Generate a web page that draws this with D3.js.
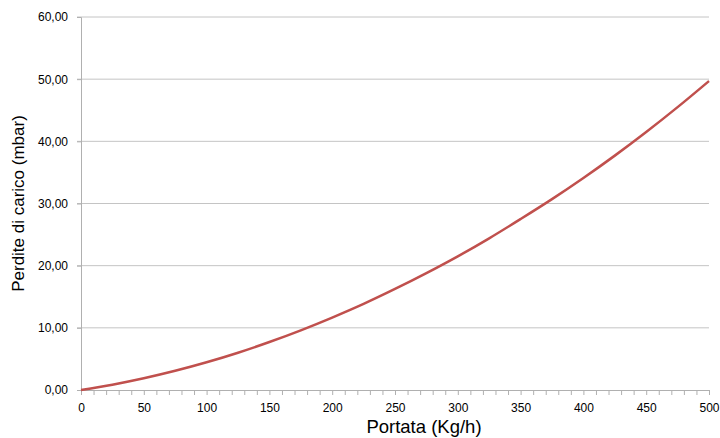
<!DOCTYPE html>
<html>
<head>
<meta charset="utf-8">
<script src="https://cdn.jsdelivr.net/npm/d3@7"></script>
<style>
  body { margin: 0; background: #fff; }
  svg { display: block; }
  text { font-family: "Liberation Sans", Arial, sans-serif; fill: #000; }
</style>
</head>
<body>
<div id="chart"></div>
<script>
// valori
var portata = [0, 25, 50, 75, 100, 125, 150, 175, 200, 225, 250, 275, 300, 325, 350, 375, 400, 425, 450, 475, 500];
var perdite = [0, 0.86, 1.89, 3.09, 4.46, 6.0, 7.72, 9.6, 11.65, 13.85, 16.25, 18.8, 21.5, 24.4, 27.5, 30.7, 34.1, 37.7, 41.5, 45.5, 49.7];
var yTicks = [0, 10, 20, 30, 40, 50, 60];
var xTicks = [0, 50, 100, 150, 200, 250, 300, 350, 400, 450, 500];

var width = 720, height = 438;
var margin = {top: 17, right: 11, bottom: 48, left: 81};

var svg = d3.select("#chart").append("svg")
    .attr("width", width)
    .attr("height", height);

var x = d3.scaleLinear().domain([0, 500]).range([margin.left, width - margin.right]);
var y = d3.scaleLinear().domain([0, 60]).range([height - margin.bottom, margin.top]);

var fmt = function (d) { return d3.format(".2f")(d).replace(".", ","); };

// griglia orizzontale
svg.append("g").selectAll("line")
    .data(yTicks.filter(function (d) { return d > 0; }))
    .enter().append("line")
    .attr("x1", x(0) - 4).attr("x2", x(500))
    .attr("y1", function (d) { return y(d); })
    .attr("y2", function (d) { return y(d); })
    .attr("stroke", "#c4c4c4")
    .attr("stroke-width", 1);

// asse y
var yAxis = svg.append("g")
    .attr("transform", "translate(" + x(0) + ",0)")
    .call(d3.axisLeft(y).tickValues(yTicks).tickFormat(fmt).tickSize(4).tickPadding(9));
yAxis.select(".domain").attr("stroke", "#b0b0b0");
yAxis.selectAll(".tick line").attr("stroke", "#b0b0b0");
yAxis.selectAll("text").style("font-size", "12px").attr("fill", "#000");

// asse x con tacche minori ogni 10
var xAxis = svg.append("g")
    .attr("transform", "translate(0," + y(0) + ")")
    .call(d3.axisBottom(x).tickValues(d3.range(0, 501, 10)).tickSize(5).tickPadding(8)
        .tickFormat(function (d) { return xTicks.indexOf(d) >= 0 ? d : ""; }));
xAxis.select(".domain").attr("stroke", "#b0b0b0");
xAxis.selectAll(".tick line").attr("stroke", "#b0b0b0");
xAxis.selectAll("text").style("font-size", "12px").attr("fill", "#000");

// curva
var line = d3.line()
    .x(function (d, i) { return x(portata[i]); })
    .y(function (d) { return y(d); })
    .curve(d3.curveMonotoneX);

svg.append("path")
    .datum(perdite)
    .attr("d", line)
    .attr("fill", "none")
    .attr("stroke", "#c0504d")
    .attr("stroke-width", 2.5);

// titoli assi
svg.append("text")
    .attr("x", 424)
    .attr("y", 433)
    .attr("text-anchor", "middle")
    .style("font-size", "18.5px")
    .text("Portata (Kg/h)");

svg.append("text")
    .attr("transform", "translate(24," + ((y(0) + y(60)) / 2) + ") rotate(-90)")
    .attr("text-anchor", "middle")
    .style("font-size", "17px")
    .text("Perdite di carico (mbar)");
</script>
</body>
</html>
